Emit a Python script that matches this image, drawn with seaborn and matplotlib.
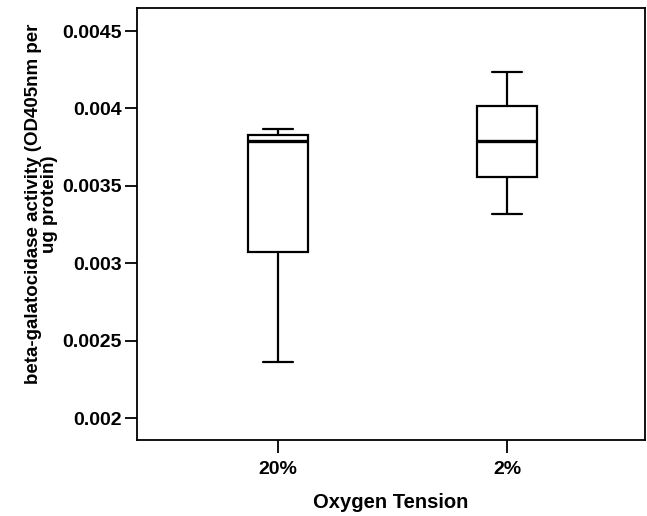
import numpy as np
import pandas as pd
import matplotlib.pyplot as plt
import seaborn as sns

# five-number summaries (min, Q1, median, Q3, max)
groups = ["20%", "2%"]
o2_20 = [0.002362, 0.003072, 0.003789, 0.003828, 0.003867]
o2_2 = [0.003318, 0.003557, 0.003789, 0.004016, 0.004235]

df = pd.DataFrame({
    "tension": ["20%"] * len(o2_20) + ["2%"] * len(o2_2),
    "activity": o2_20 + o2_2,
})

sns.set_style("ticks")
plt.rcParams["font.family"] = ["Liberation Sans", "DejaVu Sans"]
plt.rcParams["font.weight"] = "bold"
plt.rcParams["text.color"] = "black"
plt.rcParams["axes.labelcolor"] = "black"
plt.rcParams["xtick.color"] = "black"
plt.rcParams["ytick.color"] = "black"

fig = plt.figure(figsize=(6.47, 5.16), dpi=100)
ax = fig.add_axes([0.2117, 0.1473, 0.7853, 0.8372])

sns.boxplot(data=df, x="tension", y="activity", order=groups, ax=ax,
            color="white", linecolor="black", linewidth=1.6, width=0.26,
            whis=np.inf,
            medianprops={"linewidth": 2.4})

ax.set_ylim(0.001858, 0.004649)
ax.set_xlim(-0.616, 1.603)
ax.set_yticks([0.002, 0.0025, 0.003, 0.0035, 0.004, 0.0045])
ax.set_yticklabels(["0.002", "0.0025", "0.003", "0.0035", "0.004", "0.0045"])

for s in ax.spines.values():
    s.set_visible(True)
    s.set_color("black")
    s.set_linewidth(1.3)

ax.tick_params(axis="y", length=9, width=1.3, color="black",
               labelsize=14, pad=2, labelcolor="black")
ax.tick_params(axis="x", length=9, width=1.3, color="black",
               labelsize=14, pad=6, labelcolor="black")
for lab in ax.get_xticklabels() + ax.get_yticklabels():
    lab.set_fontweight("bold")

ax.set_xlabel("Oxygen Tension", fontsize=14.5, fontweight="bold",
              labelpad=11, color="black")
ax.set_ylabel("beta-galatocidase activity (OD405nm per\nug protein)",
              fontsize=13.5, fontweight="bold", linespacing=0.95,
              color="black")
ax.yaxis.set_label_coords(-0.155, 0.546)

fig.savefig("out.png", dpi=100)
